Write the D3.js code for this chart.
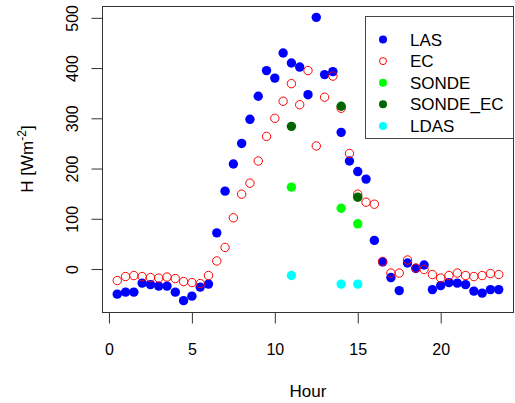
<!DOCTYPE html>
<html>
<head>
<meta charset="utf-8">
<script src="https://cdn.jsdelivr.net/npm/d3@7"></script>
<style>
  body { margin: 0; background: #fff; }
  svg { display: block; font-family: "Liberation Sans", Arial, sans-serif; }
</style>
</head>
<body>
<div class="chart"></div>
<script>
// half-hourly time axis
const hours = [0.5, 1, 1.5, 2, 2.5, 3, 3.5, 4, 4.5, 5, 5.5, 6, 6.5, 7, 7.5, 8, 8.5, 9, 9.5, 10, 10.5, 11, 11.5, 12,
  12.5, 13, 13.5, 14, 14.5, 15, 15.5, 16, 16.5, 17, 17.5, 18, 18.5, 19, 19.5, 20, 20.5, 21, 21.5, 22, 22.5, 23, 23.5];
const las = [-50, -46, -46, -28, -31, -34, -34, -46, -63, -54, -36, -30, 72, 155, 209, 250, 298, 344, 395, 380,
  430, 410, 402, 347, 501, 387, 393, 272, 215, 194, 179, 57, 14, -17, -43, 12, 1, 8, -41, -33, -27, -28, -31,
  -44, -48, -41, -41];
const ec = [-23, -15, -13, -15, -17, -18, -16, -19, -25, -27, -29, -13, 16, 43, 102, 149, 171, 215, 264, 300,
  334, 369, 327, 395, 245, 342, 384, 320, 230, 149, 133, 129, 15, -8, -8, 18, 2, -1, -11, -18, -13, -8, -13,
  -15, -13, -9, -11];
const sondeHours = [11, 14, 15];
const sonde = [163, 121, 90];
const sondeEc = [284, 324, 143];
const ldas = [-13, -30, -30];

const xTicks = [0, 5, 10, 15, 20];
const yTicks = [0, 100, 200, 300, 400, 500];

const legendItems = [
  { name: 'LAS', color: '#0000ff', open: false },
  { name: 'EC', color: '#ff0000', open: true },
  { name: 'SONDE', color: '#00ff00', open: false },
  { name: 'SONDE_EC', color: '#006400', open: false },
  { name: 'LDAS', color: '#00ffff', open: false }
];

const W = 515, H = 403;
const box = { left: 102, right: 514, top: 6, bottom: 312 };

const svg = d3.select('.chart').append('svg').attr('width', W).attr('height', H);

// R style 4% padding on the data range
function pad(ext) {
  const d = (ext[1] - ext[0]) * 0.04;
  return [ext[0] - d, ext[1] + d];
}
const xScale = d3.scaleLinear().domain(pad(d3.extent(hours))).range([box.left, box.right]);
const allY = las.concat(ec, sonde, sondeEc, ldas);
const yScale = d3.scaleLinear().domain(pad(d3.extent(allY))).range([box.bottom, box.top]);

// axes
const xAxis = d3.axisBottom(xScale).tickValues(xTicks).tickSize(11).tickPadding(20).tickFormat(d3.format('d'));
const gx = svg.append('g').attr('transform', `translate(0,${box.bottom + 0.5})`).call(xAxis);
const yAxis = d3.axisLeft(yScale).tickValues(yTicks).tickSize(11).tickPadding(0).tickFormat(d3.format('d'));
const gy = svg.append('g').attr('transform', `translate(${box.left + 0.5},0)`).call(yAxis);

[gx, gy].forEach(g => {
  g.select('.domain').remove();
  g.selectAll('.tick line').attr('stroke', '#333');
  g.selectAll('.tick text').attr('fill', '#000').style('font-size', '16px');
});
gx.selectAll('.tick text').attr('dy', '0.71em').attr('y', 31);
gy.selectAll('.tick text')
  .attr('x', null).attr('dy', null)
  .attr('text-anchor', 'middle')
  .attr('transform', 'translate(-25,0) rotate(-90)');

// axis lines spanning first to last tick
svg.append('line')
  .attr('x1', xScale(xTicks[0])).attr('x2', xScale(xTicks[xTicks.length - 1]))
  .attr('y1', box.bottom + 0.5).attr('y2', box.bottom + 0.5).attr('stroke', '#333');
svg.append('line')
  .attr('y1', yScale(yTicks[0])).attr('y2', yScale(yTicks[yTicks.length - 1]))
  .attr('x1', box.left + 0.5).attr('x2', box.left + 0.5).attr('stroke', '#333');

// plot box
svg.append('rect')
  .attr('x', box.left + 0.5).attr('y', box.top + 0.5)
  .attr('width', box.right - box.left - 1).attr('height', box.bottom - box.top)
  .attr('fill', 'none').attr('stroke', '#333');

// axis titles
svg.append('text').attr('x', (box.left + box.right) / 2).attr('y', 397)
  .attr('text-anchor', 'middle').style('font-size', '17px').text('Hour');
const yt = svg.append('text')
  .attr('transform', `translate(33,${(box.top + box.bottom) / 2}) rotate(-90)`)
  .attr('text-anchor', 'middle').style('font-size', '17px');
yt.append('tspan').text('H [Wm');
yt.append('tspan').attr('dy', -7).style('font-size', '12px').text('-2');
yt.append('tspan').attr('dy', 7).text(']');

// points
const r = 4.7;
const pts = svg.append('g').attr('class', 'points');
function drawSeries(xs, ys, color, open) {
  pts.append('g').selectAll('circle').data(ys).join('circle')
    .attr('cx', (d, i) => xScale(xs[i]))
    .attr('cy', d => yScale(d))
    .attr('r', open ? r - 0.5 : r)
    .attr('fill', open ? 'none' : color)
    .attr('stroke', open ? color : 'none')
    .attr('stroke-width', 1);
}
drawSeries(hours, las, '#0000ff', false);
drawSeries(hours, ec, '#ff0000', true);
drawSeries(sondeHours, sonde, '#00ff00', false);
drawSeries(sondeHours, sondeEc, '#006400', false);
drawSeries(sondeHours, ldas, '#00ffff', false);

// legend
const lg = svg.append('g').attr('class', 'legend');
lg.append('rect')
  .attr('x', 365.5).attr('y', 16.5).attr('width', 148).attr('height', 122)
  .attr('fill', '#fff').attr('stroke', '#444');
const rows = lg.selectAll('.row').data(legendItems).join('g')
  .attr('transform', (d, i) => `translate(0,${39.5 + i * 21.6})`);
rows.append('circle')
  .attr('cx', 383).attr('cy', 0).attr('r', d => d.open ? 3.5 : 4)
  .attr('fill', d => d.open ? 'none' : d.color)
  .attr('stroke', d => d.open ? d.color : 'none');
rows.append('text')
  .attr('x', 410).attr('y', 0).attr('dy', '0.36em')
  .style('font-size', '17px').text(d => d.name);
</script>
</body>
</html>
